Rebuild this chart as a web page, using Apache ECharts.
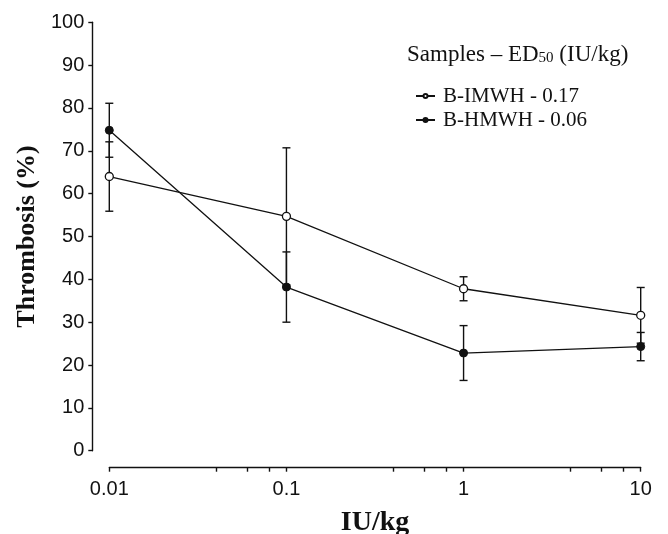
<!DOCTYPE html>
<html>
<head>
<meta charset="utf-8">
<script src="https://cdn.jsdelivr.net/npm/echarts@6/dist/echarts.min.js"></script>
<style>html,body{margin:0;padding:0;background:#fff}#c{width:668px;height:534px}</style>
</head>
<body>
<div id="c"></div>
<script>
// ---- data ----
const doses = [0.01, 0.1, 1, 10];
const imwhMean = [64.0, 54.7, 37.8, 31.6];
const imwhErr  = [8.1, 16.0, 2.8, 6.5];
const hmwhMean = [74.8, 38.2, 22.8, 24.3];
const hmwhErr  = [6.3, 8.2, 6.4, 3.3];
const imwhName = 'B-IMWH - 0.17';
const hmwhName = 'B-HMWH - 0.06';
const xMajorTicks = [0.01, 0.1, 1, 10];
const xMinorTicks = [0.04, 0.06, 0.08, 0.4, 0.6, 0.8, 4, 6, 8];
const yMin = 0, yMax = 100, yStep = 10;

const ink = '#111';
const pts = (m) => doses.map((d, i) => [d, m[i]]);
const errs = (m, e) => doses.map((d, i) => [d, m[i] - e[i], m[i] + e[i]]);

function errRender(params, api) {
  const x = api.value(0), lo = api.value(1), hi = api.value(2);
  const a = api.coord([x, lo]), b = api.coord([x, hi]);
  const w = 4;
  const st = { stroke: ink, lineWidth: 1.4 };
  return {
    type: 'group',
    children: [
      { type: 'line', shape: { x1: a[0], y1: a[1], x2: b[0], y2: b[1] }, style: st },
      { type: 'line', shape: { x1: a[0] - w, y1: a[1], x2: a[0] + w, y2: a[1] }, style: st },
      { type: 'line', shape: { x1: b[0] - w, y1: b[1], x2: b[0] + w, y2: b[1] }, style: st }
    ]
  };
}

const chart = echarts.init(document.getElementById('c'), null, { renderer: 'canvas' });
chart.setOption({
  animation: false,
  backgroundColor: '#fff',
  title: {
    text: '{a|Samples – ED}{s|50}{a| (IU/kg)}',
    left: 407, top: 40, padding: 0,
    textStyle: {
      fontWeight: 'normal',
      rich: {
        a: { fontFamily: 'Liberation Serif', fontWeight: 'normal', fontSize: 23, color: ink, lineHeight: 26, verticalAlign: 'bottom' },
        s: { fontFamily: 'Liberation Serif', fontWeight: 'normal', fontSize: 15, color: ink, lineHeight: 12, verticalAlign: 'bottom' }
      }
    }
  },
  legend: {
    data: [imwhName, hmwhName],
    orient: 'vertical',
    left: 415, top: 85, padding: 0,
    itemGap: 2,
    itemWidth: 19, itemHeight: 5,
    textStyle: { fontFamily: 'Liberation Serif', fontSize: 21, color: ink, lineHeight: 22, padding: [0, 0, 0, 3] }
  },
  grid: { left: 109.3, right: 27.3, top: 22.3, bottom: 83.3, containLabel: false, outerBoundsMode: 'none' },
  xAxis: {
    type: 'log', logBase: 10, min: 0.01, max: 10,
    offset: 17,
    name: 'IU/kg', nameLocation: 'middle', nameGap: 41,
    nameTextStyle: { fontFamily: 'Liberation Serif', fontWeight: 'bold', fontSize: 28, color: ink },
    axisLine: { show: true, onZero: false, lineStyle: { color: ink, width: 1.4 } },
    axisTick: { show: true, inside: false, length: 4, lineStyle: { color: ink, width: 1.4 },
      customValues: xMajorTicks.concat(xMinorTicks) },
    minorTick: { show: false },
    splitLine: { show: false },
    axisLabel: { customValues: xMajorTicks, margin: 12, fontFamily: 'Liberation Sans', fontSize: 20, color: ink,
      formatter: (v) => String(+v.toPrecision(6)) }
  },
  yAxis: {
    type: 'value', min: yMin, max: yMax, interval: yStep,
    offset: 17,
    name: 'Thrombosis (%)', nameLocation: 'middle', nameGap: 51,
    nameTextStyle: { fontFamily: 'Liberation Serif', fontWeight: 'bold', fontSize: 26, color: ink },
    axisLine: { show: true, onZero: false, lineStyle: { color: ink, width: 1.4 } },
    axisTick: { show: true, inside: false, length: 4, lineStyle: { color: ink, width: 1.4 } },
    splitLine: { show: false },
    axisLabel: { margin: 8, fontFamily: 'Liberation Sans', fontSize: 20, color: ink }
  },
  series: [
    { name: 'err-imwh', type: 'custom', renderItem: errRender, data: errs(imwhMean, imwhErr),
      encode: { x: 0, y: [1, 2] }, z: 1, silent: true },
    { name: 'err-hmwh', type: 'custom', renderItem: errRender, data: errs(hmwhMean, hmwhErr),
      encode: { x: 0, y: [1, 2] }, z: 1, silent: true },
    { name: imwhName, type: 'line', data: pts(imwhMean), z: 3,
      symbol: 'circle', symbolSize: 8,
      lineStyle: { color: ink, width: 1.3 },
      itemStyle: { color: '#fff', borderColor: ink, borderWidth: 1.3 } },
    { name: hmwhName, type: 'line', data: pts(hmwhMean), z: 3,
      symbol: 'circle', symbolSize: 8,
      lineStyle: { color: ink, width: 1.3 },
      itemStyle: { color: ink, borderColor: ink, borderWidth: 1 } }
  ]
});
</script>
</body>
</html>
